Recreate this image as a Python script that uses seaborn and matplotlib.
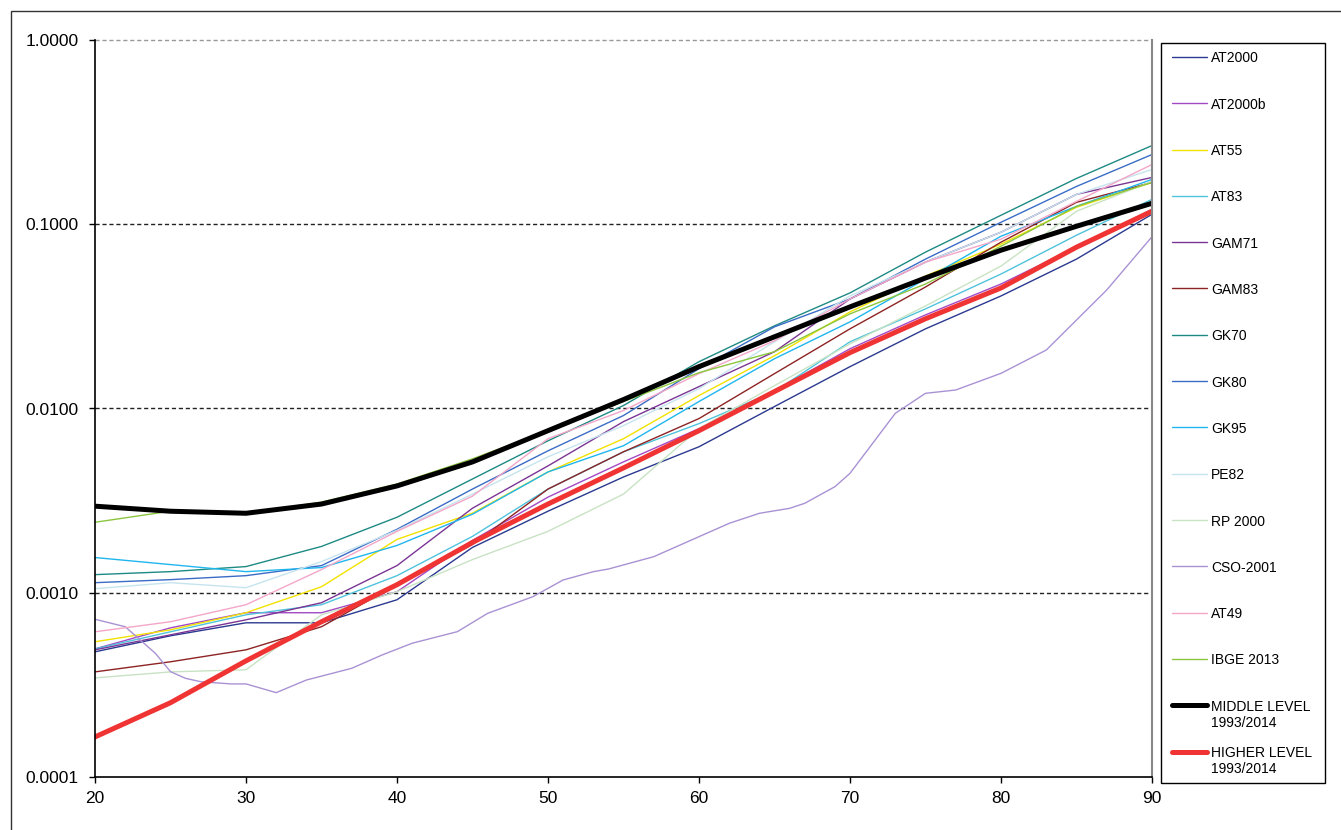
import matplotlib
matplotlib.use("Agg")
import matplotlib.pyplot as plt
from matplotlib.patches import Rectangle
from matplotlib.lines import Line2D
from matplotlib.ticker import FixedLocator, FixedFormatter, NullLocator
import seaborn as sns
import pandas as pd

sns.set_style("white")
plt.rcParams["font.family"] = ["Liberation Sans", "DejaVu Sans"]

ages = [20, 25, 30, 35, 40, 45, 50, 55, 60, 65, 70, 75, 80, 85, 90]

at2000 = [0.000478, 0.000584, 0.000687, 0.000687, 0.000916, 0.001762, 0.002771, 0.00425,
          0.00620, 0.01025, 0.01687, 0.02706, 0.04082, 0.0647, 0.1133]
at2000b = [0.000496, 0.000645, 0.000779, 0.000779, 0.001013, 0.001924, 0.003304, 0.005133,
           0.007776, 0.01251, 0.0211, 0.03222, 0.04739, 0.07509, 0.1205]
at55 = [0.000542, 0.000629, 0.000779, 0.001078, 0.001948, 0.002703, 0.004525, 0.006856,
        0.01176, 0.01934, 0.03344, 0.05235, 0.07796, 0.1236, 0.1687]
at83 = [0.000496, 0.000614, 0.000759, 0.000861, 0.001238, 0.002023, 0.003654, 0.005821,
        0.008279, 0.01236, 0.02302, 0.03472, 0.05367, 0.0872, 0.1365]
gam71 = [0.000490, 0.000591, 0.000713, 0.000883, 0.001404, 0.002877, 0.004881, 0.00849,
         0.01315, 0.02033, 0.03931, 0.06233, 0.0905, 0.1453, 0.1795]
gam83 = [0.000372, 0.000422, 0.000490, 0.000654, 0.001106, 0.001829, 0.003654, 0.005821,
         0.008818, 0.01546, 0.02706, 0.04565, 0.07992, 0.1315, 0.1687]
gk70 = [0.001254, 0.001302, 0.001387, 0.001784, 0.002569, 0.004145, 0.00668, 0.01038,
        0.01795, 0.0281, 0.0424, 0.0706, 0.1119, 0.1773, 0.2673]
gk80 = [0.001134, 0.001178, 0.001238, 0.001404, 0.00221, 0.003655, 0.005894, 0.00916,
        0.01645, 0.02775, 0.0393, 0.0647, 0.1025, 0.1604, 0.239]
gk95 = [0.001553, 0.001422, 0.001302, 0.00137, 0.001806, 0.002669, 0.004525, 0.006277,
        0.01091, 0.01863, 0.02953, 0.05043, 0.08612, 0.1251, 0.1751]
pe82 = [0.001052, 0.001134, 0.001065, 0.001476, 0.002182, 0.003432, 0.005468, 0.008075,
        0.01282, 0.02302, 0.04082, 0.06233, 0.0905, 0.1453, 0.1983]
rp2000 = [0.000345, 0.000372, 0.000382, 0.000759, 0.001013, 0.001514, 0.002154, 0.003432,
          0.007776, 0.01331, 0.02245, 0.03604, 0.0593, 0.1176, 0.1708]
at49 = [0.000614, 0.000696, 0.000861, 0.001336, 0.002154, 0.003346, 0.006856, 0.00975,
        0.01546, 0.02331, 0.03931, 0.06233, 0.08296, 0.1331, 0.211]
ibge2013 = [0.002413, 0.002771, 0.002703, 0.003103, 0.003892, 0.005331, 0.00758, 0.01091,
            0.01565, 0.02033, 0.03263, 0.04739, 0.07603, 0.1251, 0.1687]
middle = [0.00295, 0.00277, 0.00270, 0.00303, 0.00380, 0.00513, 0.00758, 0.01118,
          0.01687, 0.0245, 0.0356, 0.0511, 0.0723, 0.0975, 0.130]
higher = [0.000165, 0.000253, 0.000427, 0.000696, 0.001106, 0.001876, 0.00303, 0.00476,
          0.00758, 0.01236, 0.0201, 0.0307, 0.0451, 0.0751, 0.1176]

cso_ages = [20, 22, 24, 25, 26, 27, 29, 30, 32, 34, 37, 39, 41, 44, 46, 49, 51, 53, 54,
            57, 62, 64, 66, 67, 69, 70, 72, 73, 75, 77, 80, 83, 87, 90]
cso2001 = [0.000718, 0.000654, 0.000469, 0.000373, 0.000343, 0.000329, 0.000320, 0.000320,
           0.000287, 0.000336, 0.000389, 0.000459, 0.000532, 0.000615, 0.000773, 0.000952,
           0.001173, 0.001301, 0.001345, 0.001569, 0.002381, 0.002699, 0.002872, 0.003058,
           0.003764, 0.004448, 0.007334, 0.009416, 0.01209, 0.0126, 0.01552, 0.02077,
           0.04396, 0.08559]

series_labels = ["AT2000", "AT2000b", "AT55", "AT83", "GAM71", "GAM83", "GK70", "GK80",
                 "GK95", "PE82", "RP 2000", "CSO-2001", "AT49", "IBGE 2013",
                 "MIDDLE LEVEL\n1993/2014", "HIGHER LEVEL\n1993/2014"]
series_values = [at2000, at2000b, at55, at83, gam71, gam83, gk70, gk80, gk95, pe82,
                 rp2000, cso2001, at49, ibge2013, middle, higher]
colors = ["#2B3990", "#A349C4", "#F2E200", "#4FC3DC", "#7B3594", "#8E2323", "#1E8A84",
          "#3A6CC6", "#1FB6EE", "#C6E4EE", "#C8E3C3", "#A992D4", "#F4A6C8", "#8CC63E",
          "#000000", "#F03333"]

W, H = 1341, 830
fig = plt.figure(figsize=(W / 100, H / 100), dpi=100)
ax = fig.add_axes([95 / W, 1 - 777 / H, (1152 - 95) / W, (777 - 40) / H])

widths = []
for lab, vals, col in zip(series_labels, series_values, colors):
    x = cso_ages if vals is cso2001 else ages
    lw = 3.6 if ("LEVEL" in lab) else 1.0
    widths.append(lw)
    df = pd.DataFrame({"age": x, "q": vals})
    sns.lineplot(data=df, x="age", y="q", color=col, linewidth=lw, ax=ax, label=lab,
                 legend=False)

ax.set_yscale("log")
ax.set_ylim(0.0001, 1.0)
ax.set_xlim(20, 90)
yt = [0.0001, 0.001, 0.01, 0.1, 1.0]
ax.yaxis.set_major_locator(FixedLocator(yt))
ax.yaxis.set_major_formatter(FixedFormatter(["%.4f" % v for v in yt]))
ax.yaxis.set_minor_locator(NullLocator())
ax.set_xticks([20, 30, 40, 50, 60, 70, 80, 90])
ax.set_xlabel("")
ax.set_ylabel("")

for v in [0.001, 0.01, 0.1]:
    ax.axhline(v, color="#222222", linestyle=(0, (3, 2)), linewidth=1.0, zorder=0.5)
ax.axhline(1.0, color="#999999", linestyle=(0, (3, 2)), linewidth=1.0, zorder=0.5, clip_on=False)

ax.spines["top"].set_visible(False)
ax.spines["right"].set_color("#888888")
ax.spines["right"].set_linewidth(1.5)
ax.spines["left"].set_color("black")
ax.spines["bottom"].set_color("black")
ax.spines["left"].set_linewidth(1.2)
ax.spines["bottom"].set_linewidth(1.2)

ax.tick_params(axis="both", which="major", direction="out", length=4, width=1,
               color="black", labelsize=12.5, labelcolor="black")
ax.tick_params(axis="y", pad=8)
ax.tick_params(axis="x", pad=6)
ax.tick_params(left=True, bottom=True)

# Legend box (fixed-height rows, as in the original spreadsheet chart)
def fx(px):
    return px / W

def fy(py):
    return 1 - py / H

fig.patches.append(Rectangle((fx(1161), fy(783)), fx(1325) - fx(1161), fy(43) - fy(783),
                             transform=fig.transFigure, fill=False, edgecolor="black",
                             linewidth=1.0))
row0, step = 57.0, 46.3
for i, (lab, col, lw) in enumerate(zip(series_labels, colors, widths)):
    yrow = row0 + step * i
    fig.lines.append(Line2D([fx(1172), fx(1207)], [fy(yrow), fy(yrow)],
                            transform=fig.transFigure, color=col, linewidth=lw))
    lines = lab.split("\n")
    for j, t in enumerate(lines):
        fig.text(fx(1211), fy(yrow + 16 * j), t, fontsize=10, va="center_baseline",
                 ha="left", color="black")

fig.patches.append(Rectangle((11 / W, -0.01), 1.05, 1 - 11 / H + 0.01,
                             transform=fig.transFigure, fill=False,
                             edgecolor="#333333", linewidth=1.0))

fig.savefig("out.png", dpi=100, facecolor="white")
